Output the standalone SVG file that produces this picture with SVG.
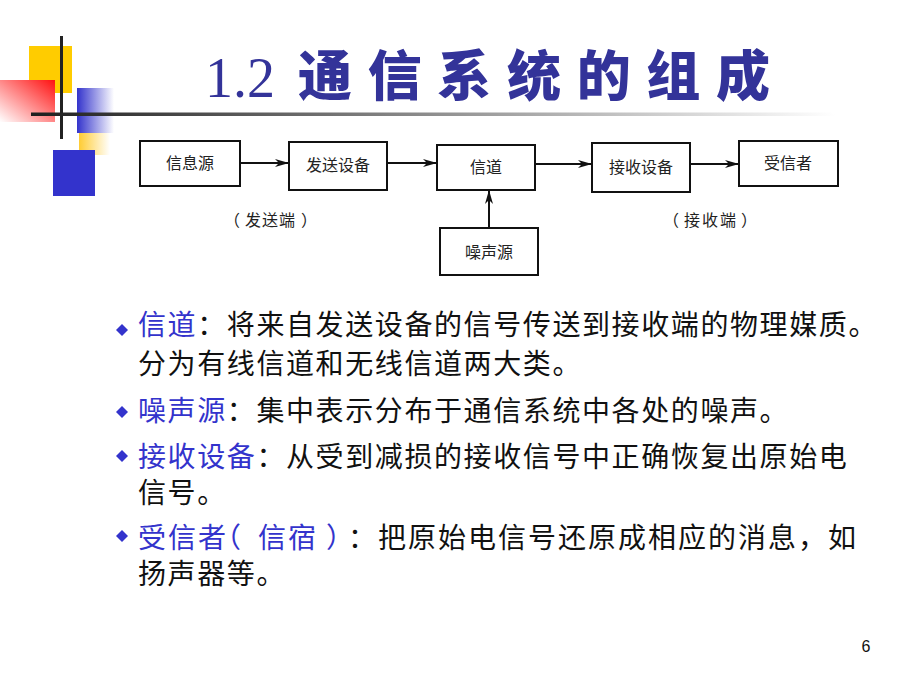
<svg xmlns="http://www.w3.org/2000/svg" width="900" height="675" viewBox="0 0 900 675">
<defs>
<linearGradient id="gRed" x1="1" y1="0" x2="0" y2="1">
<stop offset="0" stop-color="#ff1010"/>
<stop offset="1" stop-color="#ffffff"/>
</linearGradient>
<linearGradient id="gBlue" x1="0" y1="0" x2="1" y2="0">
<stop offset="0" stop-color="#3333cc"/>
<stop offset="1" stop-color="#ffffff"/>
</linearGradient>
<linearGradient id="gYel" x1="0" y1="0" x2="1" y2="0">
<stop offset="0" stop-color="#ffcc33"/>
<stop offset="1" stop-color="#ffffff"/>
</linearGradient>
<linearGradient id="gLine" gradientUnits="userSpaceOnUse" x1="31" y1="0" x2="835" y2="0">
<stop offset="0" stop-color="#1e1e1e"/>
<stop offset="1" stop-color="#ffffff"/>
</linearGradient>
<marker id="arr" viewBox="0 0 14 8" refX="13" refY="4" markerWidth="14" markerHeight="8" markerUnits="userSpaceOnUse" orient="auto">
<path d="M0,0 L14,4 L0,8 L4,4 z" fill="#111"/>
</marker>
<style>
.box{fill:#fff;stroke:#111;stroke-width:2}
.bt{font-family:"Noto Sans CJK SC","Noto Sans CJK JP",sans-serif;font-size:16px;fill:#222;text-anchor:middle}
.lb{font-family:"Noto Sans CJK SC","Noto Sans CJK JP",sans-serif;font-size:16px;fill:#222}
.conn{stroke:#111;stroke-width:2;fill:none;marker-end:url(#arr)}
.body{font-family:"Noto Sans CJK SC","Noto Sans CJK JP",sans-serif;font-size:28px;fill:#111;letter-spacing:1.6px}
.body2{font-family:"Noto Sans CJK SC","Noto Sans CJK JP",sans-serif;font-size:28px;fill:#111}
.term{fill:#3333cc}
.dia{fill:#3333cc}
</style>
</defs>
<rect width="900" height="675" fill="#fff"/>
<!-- decoration -->
<g id="decor">
<rect x="29" y="46" width="43" height="47" fill="#ffcc00"/>
<rect x="0" y="80" width="55" height="42" fill="url(#gRed)"/>
<rect x="77" y="88" width="37" height="45" fill="url(#gBlue)"/>
<rect x="79" y="133" width="31" height="22" fill="url(#gYel)"/>
<rect x="53" y="150" width="42" height="46" fill="#3333cc"/>
<rect x="60" y="36" width="3" height="103" fill="#222"/>
<rect x="31" y="112.5" width="804" height="3.5" fill="url(#gLine)"/>
</g>
<!-- title -->
<g id="title">
<text x="205" y="97" font-family="Liberation Serif, serif" font-size="56" fill="#333399">1.2</text>
<text x="298" y="96" font-family="Noto Sans CJK SC, Noto Sans CJK JP, sans-serif" font-size="54" font-weight="900" fill="#333399" textLength="472" lengthAdjust="spacing">通信系统的组成</text>
</g>
<!-- connectors -->
<g id="connectors">
<line class="conn" x1="241" y1="163" x2="288" y2="163"/>
<line class="conn" x1="388" y1="163" x2="436" y2="163"/>
<line class="conn" x1="536" y1="164" x2="591" y2="164"/>
<line class="conn" x1="691" y1="164" x2="738" y2="164"/>
<line class="conn" x1="489" y1="227" x2="489" y2="191"/>
</g>
<!-- nodes -->
<g id="node-source">
<rect class="box" x="140" y="141" width="100" height="45"/>
<text class="bt" x="190" y="169">信息源</text>
</g>
<g id="node-transmitter">
<rect class="box" x="289" y="142" width="98" height="48"/>
<text class="bt" x="338" y="171">发送设备</text>
</g>
<g id="node-channel">
<rect class="box" x="437" y="145" width="98" height="45"/>
<text class="bt" x="486" y="173">信道</text>
</g>
<g id="node-receiver">
<rect class="box" x="592" y="143" width="98" height="49"/>
<text class="bt" x="641" y="173">接收设备</text>
</g>
<g id="node-sink">
<rect class="box" x="739" y="141" width="99" height="45"/>
<text class="bt" x="788" y="169">受信者</text>
</g>
<g id="node-noise">
<rect class="box" x="440" y="228" width="98" height="47"/>
<text class="bt" x="489" y="258">噪声源</text>
</g>
<g id="labels">
<text class="lb" x="224 245 262 279 301" y="226">（发送端）</text>
<text class="lb" x="663 684 702 720 741" y="226">（接收端）</text>
</g>
<!-- bullets -->
<g id="bullets">
<path class="dia" d="M122,324 L128,330 L122,336 L116,330 z"/>
<text class="body" x="138" y="335"><tspan class="term">信道</tspan>：将来自发送设备的信号传送到接收端的物理媒质。</text>
<text class="body" x="138" y="374">分为有线信道和无线信道两大类。</text>
<path class="dia" d="M122,406 L128,412 L122,418 L116,412 z"/>
<text class="body" x="138" y="421"><tspan class="term">噪声源</tspan>：集中表示分布于通信系统中各处的噪声。</text>
<path class="dia" d="M122,450 L128,456 L122,462 L116,456 z"/>
<text class="body" x="138" y="467"><tspan class="term">接收设备</tspan>：从受到减损的接收信号中正确恢复出原始电</text>
<text class="body" x="138" y="503">信号。</text>
<path class="dia" d="M122,530 L128,536 L122,542 L116,536 z"/>
<text class="body2" y="548"><tspan class="term" x="138 168 198 213 258 288 326">受信者（信宿）</tspan><tspan x="348 378 408 438 468 498 528 558 588 618 648 678 708 738 768 798 828">：把原始电信号还原成相应的消息，如</tspan></text>
<text class="body" x="138" y="584">扬声器等。</text>
</g>
<text x="866" y="652" font-family="Liberation Sans, Arial, sans-serif" font-size="16" fill="#111" text-anchor="middle">6</text>
</svg>
